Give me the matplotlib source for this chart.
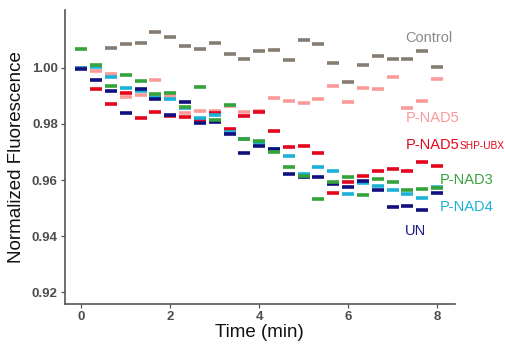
import matplotlib
matplotlib.use("Agg")
import matplotlib.pyplot as plt
import numpy as np

plt.rcParams['font.family'] = ['Liberation Sans', 'DejaVu Sans']

# time points (min), every 20 s
time_min = [i / 3 for i in range(25)]
nan = float('nan')

control = [nan, nan, 1.0070, 1.0086, 1.0089, 1.0130, 1.0110, 1.0078, 1.0067, 1.0090,
           1.0051, 1.0031, 1.0061, 1.0063, 1.0029, 1.0099, 1.0085, 1.0018, 0.9951,
           1.0012, 1.0044, 1.0031, 1.0031, 1.0060, 1.0005]
pnad5 = [1.0000, 0.9989, 0.9977, 0.9898, 0.9904, 0.9956, 0.9900, 0.9839, 0.9848, 0.9845,
         0.9864, 0.9843, 0.9848, 0.9892, 0.9883, 0.9875, 0.9888, 0.9937, 0.9879,
         0.9929, 0.9925, 0.9967, 0.9857, 0.9883, 0.9960]
pnad5_shp = [1.0000, 0.9925, 0.9873, 0.9912, 0.9821, 0.9844, 0.9829, 0.9824, 0.9814, 0.9840,
             0.9782, 0.9830, 0.9843, 0.9775, 0.9719, 0.9722, 0.9696, 0.9555, 0.9592,
             0.9615, 0.9632, 0.9640, 0.9632, 0.9665, 0.9651]
pnad3 = [1.0068, 1.0011, 0.9937, 0.9975, 0.9954, 0.9908, 0.9912, 0.9860, 0.9933, 0.9814,
         0.9868, 0.9746, 0.9738, 0.9701, 0.9645, 0.9614, 0.9531, 0.9593, 0.9612,
         0.9547, 0.9602, 0.9593, 0.9563, 0.9567, 0.9571]
pnad4 = [1.0000, 1.0003, 0.9968, 0.9929, 0.9917, 0.9896, 0.9890, 0.9857, 0.9821, 0.9832,
         0.9771, 0.9748, 0.9732, 0.9711, 0.9686, 0.9621, 0.9648, 0.9631, 0.9551,
         0.9589, 0.9579, 0.9563, 0.9551, 0.9536, 0.9574]
un = [0.9996, 0.9958, 0.9918, 0.9839, 0.9924, 0.9888, 0.9833, 0.9880, 0.9802, 0.9807,
      0.9763, 0.9696, 0.9723, 0.9711, 0.9620, 0.9610, 0.9610, 0.9587, 0.9574,
      0.9595, 0.9565, 0.9503, 0.9507, 0.9493, 0.9555]

series_names = ["Control", "P-NAD5", "P-NAD5", "P-NAD3", "P-NAD4", "UN"]
series_values = [control, pnad5, pnad5_shp, pnad3, pnad4, un]
mark_colors = ["#857d72", "#fb9a99", "#e3061c", "#35a33c", "#1cb2d8", "#10107e"]
text_colors = ["#8a8a8a", "#fb9a99", "#e3061c", "#35a33c", "#1cb2d8", "#1a1a8c"]
label_pos = [(7.28, 1.0107), (7.30, 0.9821), (7.30, 0.9725), (8.07, 0.9600),
             (8.07, 0.9504), (7.28, 0.9418)]

x_ticks = [0, 2, 4, 6, 8]
y_ticks = [0.92, 0.94, 0.96, 0.98, 1.00]

fig = plt.figure(figsize=(5.06, 3.44), dpi=100)
ax = fig.add_axes([0.128, 0.116, 0.771, 0.855])

draw_order = [0, 1, 2, 4, 5, 3]
for k in draw_order:
    ax.plot(time_min, series_values[k], linestyle='none', marker='_',
            markersize=8.5, markeredgewidth=2.6, color=mark_colors[k], zorder=3)

for k, name in enumerate(series_names):
    xx, yy = label_pos[k]
    t = ax.text(xx, yy, name, color=text_colors[k], fontsize=10.5,
                va='center', ha='left', clip_on=False)
    if k == 2:
        ax.annotate("SHP-UBX", xy=(1, 0), xycoords=t, xytext=(0, 1.0),
                    textcoords='offset points', va='bottom', ha='left',
                    color=text_colors[k], fontsize=7.3, annotation_clip=False)

ax.set_xlim(-0.37, 8.40)
ax.set_ylim(0.9157, 1.0207)
ax.set_xticks(x_ticks)
ax.set_yticks(y_ticks)
ax.set_yticklabels([f"{v:.2f}" for v in y_ticks])

for s in ['top', 'right']:
    ax.spines[s].set_visible(False)
for s in ['left', 'bottom']:
    ax.spines[s].set_color('#555555')
    ax.spines[s].set_linewidth(1.2)
ax.tick_params(axis='both', length=3, width=0.9, color='#555555',
               labelcolor='#4d4d4d', labelsize=9.5, pad=2)
for lab in ax.get_xticklabels() + ax.get_yticklabels():
    lab.set_fontweight('bold')

ax.set_xlabel("Time (min)", fontsize=13.5, color='#111111', labelpad=1)
ax.set_ylabel("Normalized Fluorescence", fontsize=13.5, color='#111111', labelpad=5)

fig.savefig("out.png", dpi=100)
